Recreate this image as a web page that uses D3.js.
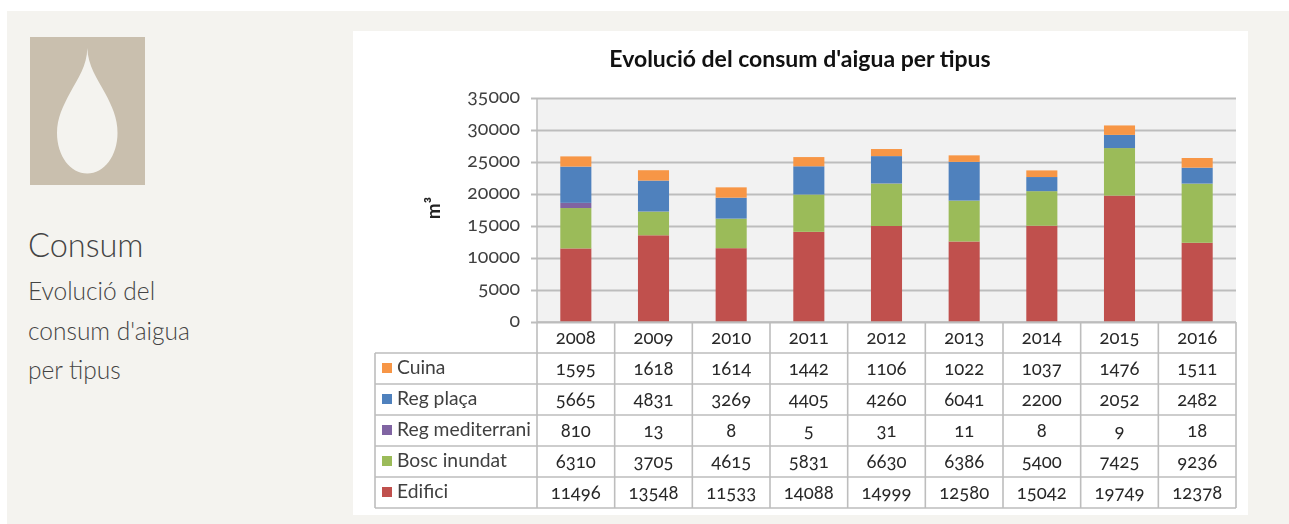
<!DOCTYPE html>
<html><head><meta charset="utf-8">
<script src="https://cdn.jsdelivr.net/npm/d3@7/dist/d3.min.js"></script>
<style>
html,body{margin:0;padding:0;background:#fff;overflow:hidden}
svg{display:block}
text{font-family:Lato,"Open Sans",sans-serif;font-feature-settings:"onum" 1,"lnum" 0}
</style></head><body>
<svg id="c" width="1289" height="524"></svg>
<script>
const years=["2008","2009","2010","2011","2012","2013","2014","2015","2016"];
const cuina=[1595,1618,1614,1442,1106,1022,1037,1476,1511];
const regPlaca=[5665,4831,3269,4405,4260,6041,2200,2052,2482];
const regMediterrani=[810,13,8,5,31,11,8,9,18];
const boscInundat=[6310,3705,4615,5831,6630,6386,5400,7425,9236];
const edifici=[11496,13548,11533,14088,14999,12580,15042,19749,12378];
const yTicks=[0,5000,10000,15000,20000,25000,30000,35000];
const rowNames=["Cuina","Reg plaça","Reg mediterrani","Bosc inundat","Edifici"];
const rowValues=[cuina,regPlaca,regMediterrani,boscInundat,edifici];
const rowColors=["#f79646","#4f81bd","#8064a2","#9bbb59","#c0504d"];
const sideLines=["Evolució del","consum d'aigua","per tipus"];

const svg=d3.select("#c");
svg.append("rect").attr("x",7).attr("y",11).attr("width",1282).attr("height",513).attr("fill","#f4f3ef");
svg.append("rect").attr("x",353).attr("y",31).attr("width",895).attr("height",484).attr("fill","#fff");

// side panel
svg.append("rect").attr("x",30).attr("y",37).attr("width",115).attr("height",148).attr("fill","#c9bfae");
svg.append("path").attr("fill","#f4f3ef")
 .attr("d","M87.3 48C88 66 97 78 105 93C112 106 117.5 118 117.5 133C117.5 156 104 173.5 87.3 173.5C70.5 173.5 57 156 57 133C57 118 63 106 70 93C78 78 87 66 87.3 48Z");
svg.append("text").attr("x",28).attr("y",257).attr("font-size",32.5).attr("font-weight",300).attr("fill","#444").style("font-feature-settings","normal").text("Consum");
svg.selectAll(".side").data(sideLines).join("text").attr("class","side")
 .attr("x",28).attr("y",(d,i)=>300+i*39.5).attr("font-size",24.5).attr("font-weight",300).attr("fill","#444").text(d=>d);

// chart
const chart=svg.append("g").style("filter","blur(0.35px)");
const left=537,right=1236,top0=98,bottom=322;
const x=d3.scaleBand().domain(years).range([left,right]).paddingInner(0).paddingOuter(0);
const y=d3.scaleLinear().domain([0,35000]).range([bottom,top0]);
const line="#bdbdbd";

chart.append("rect").attr("x",left).attr("y",top0).attr("width",right-left).attr("height",bottom-top0).attr("fill","#f2f2f2");

const yAxis=d3.axisLeft(y).tickValues(yTicks).tickSize(right-left+6).tickPadding(11).tickFormat(d3.format("d"));
const ya=chart.append("g").attr("transform",`translate(${right},0)`).call(yAxis);
ya.select(".domain").remove();
ya.selectAll("line").attr("stroke",line).attr("stroke-width",2);
ya.selectAll("text").attr("font-size",19.5).attr("fill","#404040").attr("dy","0.25em");
chart.append("line").attr("x1",left).attr("x2",left).attr("y1",top0).attr("y2",bottom).attr("stroke",line).attr("stroke-width",1.5);

// stacked bars, bottom to top
const stackOrder=[4,3,2,1,0];
const table=years.map((yr,i)=>{const o={year:yr};stackOrder.forEach(r=>o[rowNames[r]]=rowValues[r][i]);return o;});
const stacked=d3.stack().keys(stackOrder.map(r=>rowNames[r]))(table);
const barW=x.bandwidth()*0.4;
chart.selectAll(".s").data(stacked).join("g").attr("class","s")
 .attr("fill",d=>rowColors[rowNames.indexOf(d.key)])
 .selectAll("rect").data(d=>d).join("rect")
 .attr("x",d=>x(d.data.year)+(x.bandwidth()-barW)/2)
 .attr("width",barW)
 .attr("y",d=>y(d[1]))
 .attr("height",d=>y(d[0])-y(d[1]));

// data table
const rowH=31;
const tLeft=375;
const rowY=i=>bottom+rowH*i;
const grid=chart.append("g").attr("stroke",line).attr("stroke-width",1.6).attr("fill","none");
years.forEach(yr=>grid.append("line").attr("x1",x(yr)).attr("x2",x(yr)).attr("y1",bottom).attr("y2",rowY(6)));
grid.append("line").attr("x1",right).attr("x2",right).attr("y1",bottom).attr("y2",rowY(6));
grid.append("line").attr("x1",tLeft).attr("x2",tLeft).attr("y1",rowY(1)).attr("y2",rowY(6));
grid.append("line").attr("x1",left).attr("x2",right).attr("y1",bottom).attr("y2",bottom);
d3.range(1,7).forEach(i=>grid.append("line").attr("x1",tLeft).attr("x2",right).attr("y1",rowY(i)).attr("y2",rowY(i)));

const cx=yr=>x(yr)+x.bandwidth()/2;
chart.selectAll(".yr").data(years).join("text").attr("class","yr")
 .attr("x",cx).attr("y",bottom+21.5).attr("text-anchor","middle").attr("font-size",18.5).attr("fill","#282828").text(d=>d);
rowNames.forEach((n,r)=>{
  const my=rowY(r+1)+rowH/2;
  chart.append("rect").attr("x",382).attr("y",my-5.5).attr("width",10).attr("height",10).attr("fill",rowColors[r]);
  chart.append("text").attr("x",397).attr("y",my+5).attr("font-size",19.3).attr("fill","#404040").text(n);
  chart.selectAll(".v"+r).data(rowValues[r]).join("text").attr("class","v"+r)
   .attr("x",(d,i)=>cx(years[i])).attr("y",my+6).attr("text-anchor","middle").attr("font-size",18.5).attr("fill","#282828").text(d=>d);
});

chart.append("text").attr("x",800).attr("y",67).attr("text-anchor","middle").attr("font-size",23).attr("font-weight",700).attr("fill","#111").style("font-feature-settings","normal").text("Evolució del consum d'aigua per tipus");
chart.append("text").attr("transform","translate(440,208) rotate(-90)").attr("text-anchor","middle").attr("font-size",19).attr("font-weight",700).attr("fill","#222").text("m³");
</script></body></html>
